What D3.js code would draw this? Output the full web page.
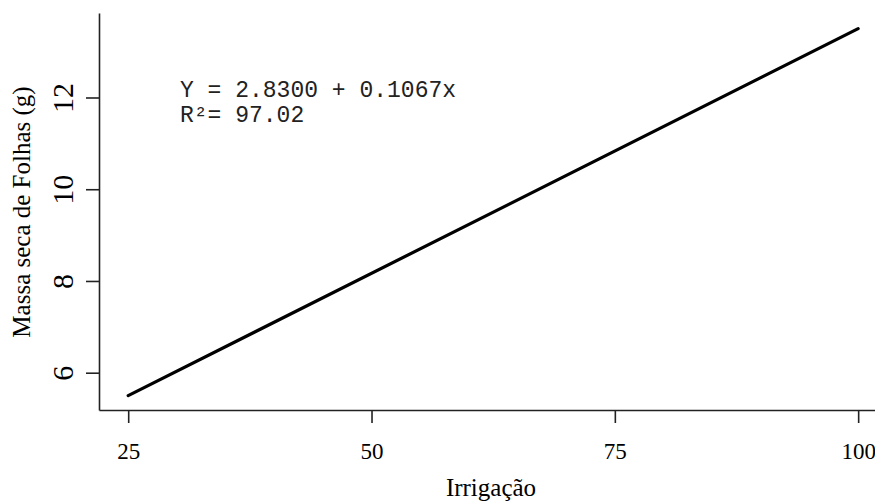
<!DOCTYPE html>
<html lang="pt">
<head>
  <meta charset="UTF-8">
  <script src="https://d3js.org/d3.v7.min.js"></script>
  <title>Massa seca de Folhas</title>
  <style>
    body { margin: 0; background: #fff; }
  </style>
</head>
<body>
  <svg width="875" height="502"></svg>
  <script>
    // dados (reta ajustada, pontos extremos)
    var irrigacao = [25, 100];
    var massa = [5.50, 13.50];
    var xTicks = [25, 50, 75, 100];
    var yTicks = [6, 8, 10, 12];
    var equacao = ["Y = 2.8300 + 0.1067x", "R\u00b2= 97.02"];

    var svg = d3.select("svg");
    var serif = "'Liberation Serif', 'Times New Roman', serif";
    var mono = "'Liberation Mono', 'Courier New', monospace";

    // escalas
    var x = d3.scaleLinear().domain([22, 101.73]).range([99, 875]);
    var y = d3.scaleLinear().domain([5.187, 13.842]).range([410, 13]);

    // eixo x
    var gx = svg.append("g")
      .attr("transform", "translate(0,410)")
      .call(d3.axisBottom(x).tickValues(xTicks).tickSizeInner(13).tickSizeOuter(0).tickPadding(0));
    gx.selectAll("path, line").attr("stroke", "#222").attr("stroke-width", 1.6);
    gx.selectAll("text")
      .attr("font-family", serif).attr("font-size", 23).attr("fill", "#000")
      .attr("dy", null).attr("y", 49);

    // eixo y
    var gy = svg.append("g")
      .attr("transform", "translate(99,0)")
      .call(d3.axisLeft(y).tickValues(yTicks).tickSizeInner(13).tickSizeOuter(0));
    gy.selectAll("path, line").attr("stroke", "#222").attr("stroke-width", 1.6);
    gy.selectAll("text")
      .attr("font-family", serif).attr("font-size", 30).attr("fill", "#000")
      .attr("x", null).attr("dy", null)
      .attr("text-anchor", "middle")
      .attr("transform", "translate(-26,0) rotate(-90)");

    // reta
    var line = d3.line()
      .x(function(d, i){ return x(irrigacao[i]) })
      .y(function(d){ return y(d) });
    svg.append("path")
      .datum(massa)
      .attr("d", line)
      .attr("fill", "none")
      .attr("stroke", "#000")
      .attr("stroke-width", 3.2)
      .attr("stroke-linecap", "round");

    // equação
    svg.selectAll(".eq")
      .data(equacao)
      .enter()
      .append("text")
      .attr("class", "eq")
      .attr("x", 180)
      .attr("y", function(d, i){ return 97 + i * 25 })
      .attr("font-family", mono)
      .attr("font-size", 23)
      .attr("fill", "#222")
      .attr("xml:space", "preserve")
      .text(function(d){ return d });

    // títulos
    svg.append("text")
      .attr("x", 491).attr("y", 496)
      .attr("text-anchor", "middle")
      .attr("font-family", serif).attr("font-size", 25)
      .text("Irrigação");

    svg.append("text")
      .attr("transform", "translate(30,212) rotate(-90)")
      .attr("text-anchor", "middle")
      .attr("font-family", serif).attr("font-size", 25)
      .text("Massa seca de Folhas (g)");
  </script>
</body>
</html>
